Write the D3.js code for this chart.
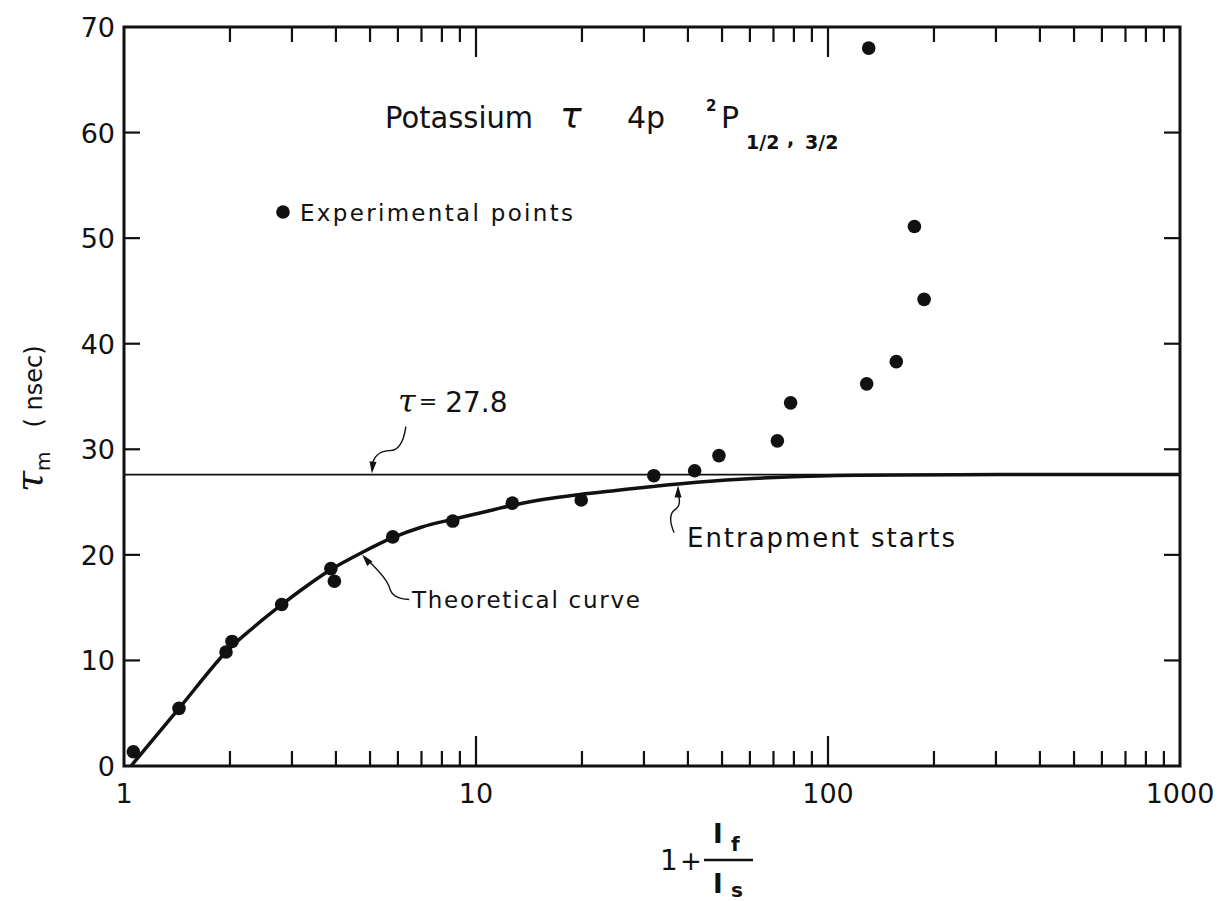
<!DOCTYPE html>
<html>
<head>
<meta charset="utf-8">
<script src="https://cdn.jsdelivr.net/npm/d3@7/dist/d3.min.js"></script>
<style>
  html, body { margin: 0; padding: 0; background: #fff; }
  svg { display: block; }
  text { font-family: "DejaVu Sans", sans-serif; fill: #111; }
</style>
</head>
<body>
<svg id="chart" width="1221" height="901"></svg>
<script>
// ---- data ----
const expX = [1.063, 1.433, 1.949, 2.027, 2.805, 3.87, 3.96, 5.80, 8.59, 12.68, 19.9, 32.0, 41.8, 49.0, 71.8, 78.3, 128.8, 130.5, 156.3, 176, 187.5];
const expY = [1.35, 5.46, 10.8, 11.8, 15.3, 18.7, 17.5, 21.7, 23.2, 24.9, 25.2, 27.5, 27.97, 29.4, 30.8, 34.4, 36.2, 68.0, 38.3, 51.1, 44.2];
const curveX = [1.047, 1.433, 1.949, 2.341, 2.811, 3.289, 3.873, 4.745, 5.773, 7.024, 8.548, 10.40, 12.66, 15.81, 19.75, 24.98, 31.83, 43.28, 61.22, 106.1, 308, 1000];
const curveY = [0, 5.45, 10.80, 13.17, 15.30, 17.00, 18.61, 20.22, 21.60, 22.64, 23.35, 24.01, 24.68, 25.29, 25.72, 26.10, 26.48, 26.90, 27.23, 27.52, 27.6, 27.6];
const tauLine = 27.6;
const xTickLabels = ["1", "10", "100", "1000"];
const xTickValues = [1, 10, 100, 1000];
const yTickValues = [0, 10, 20, 30, 40, 50, 60, 70];

const svg = d3.select("#chart");
const L = 124, R = 1180, T = 27, B = 766;
const x = d3.scaleLog().domain([1, 1000]).range([L, R]);
const y = d3.scaleLinear().domain([0, 70]).range([B, T]);

// minor/major ticks on x (top and bottom, inward)
const xt = x.ticks().filter(v => v > 1 && v < 1000);
const isMajor = v => Math.abs(Math.log10(v) - Math.round(Math.log10(v))) < 1e-9;
const gT = svg.append("g").attr("stroke", "#111").attr("stroke-width", 2.2);
xt.forEach(v => {
  const len = isMajor(v) ? 30 : 15;
  gT.append("line").attr("x1", x(v)).attr("x2", x(v)).attr("y1", B).attr("y2", B - len);
  gT.append("line").attr("x1", x(v)).attr("x2", x(v)).attr("y1", T).attr("y2", T + len);
});
yTickValues.filter(v => v > 0 && v < 70).forEach(v => {
  gT.append("line").attr("x1", L).attr("x2", L + 16).attr("y1", y(v)).attr("y2", y(v));
  gT.append("line").attr("x1", R).attr("x2", R - 16).attr("y1", y(v)).attr("y2", y(v));
});

// frame
svg.append("rect").attr("x", L).attr("y", T).attr("width", R - L).attr("height", B - T)
  .attr("fill", "none").attr("stroke", "#111").attr("stroke-width", 3);

// tick labels
svg.append("g").selectAll("text").data(xTickValues).join("text")
  .attr("x", d => x(d)).attr("y", 803)
  .attr("text-anchor", "middle").attr("font-size", 27)
  .text((d, i) => xTickLabels[i]);
svg.append("g").selectAll("text").data(yTickValues).join("text")
  .attr("x", 115).attr("y", d => y(d) + 10)
  .attr("text-anchor", "end").attr("font-size", 27)
  .text(d => d);

// horizontal tau line
svg.append("line").attr("x1", x(1)).attr("x2", x(1000)).attr("y1", y(tauLine)).attr("y2", y(tauLine))
  .attr("stroke", "#111").attr("stroke-width", 1.6);

// theoretical curve
const line = d3.line().x(d => x(d[0])).y(d => y(d[1])).curve(d3.curveCatmullRom.alpha(0.5));
svg.append("path").datum(curveX.map((v, i) => [v, curveY[i]]))
  .attr("d", line).attr("fill", "none").attr("stroke", "#111").attr("stroke-width", 3.5);

// experimental points
svg.append("g").selectAll("circle").data(expX.map((v, i) => [v, expY[i]])).join("circle")
  .attr("cx", d => x(d[0])).attr("cy", d => y(d[1])).attr("r", 6.8).attr("fill", "#111");

// legend
svg.append("circle").attr("cx", 283).attr("cy", 212).attr("r", 6.8).attr("fill", "#111");
svg.append("text").attr("x", 300).attr("y", 221).attr("font-size", 23)
  .attr("textLength", 273).attr("lengthAdjust", "spacing").text("Experimental points");

// title
const title = svg.append("g");
title.append("text").attr("x", 385).attr("y", 128).attr("font-size", 30)
  .attr("textLength", 148).attr("lengthAdjust", "spacingAndGlyphs").text("Potassium");
title.append("text").attr("x", 560).attr("y", 128).attr("font-size", 36).attr("font-style", "italic")
  .attr("font-family", "DejaVu Serif").text("τ");
title.append("text").attr("x", 627).attr("y", 128).attr("font-size", 30).text("4p");
title.append("text").attr("x", 706).attr("y", 111).attr("font-size", 15).attr("font-weight", "bold").text("2");
title.append("text").attr("x", 721).attr("y", 128).attr("font-size", 30).text("P");
title.append("text").attr("x", 746).attr("y", 149).attr("font-size", 19).attr("font-weight", "bold").text("1/2");
title.append("text").attr("x", 787).attr("y", 145).attr("font-size", 19).attr("font-weight", "bold").text(",");
title.append("text").attr("x", 805).attr("y", 149).attr("font-size", 19).attr("font-weight", "bold").text("3/2");

// tau annotation
const tl = svg.append("text").attr("x", 398).attr("y", 412).attr("font-size", 28);
tl.append("tspan").attr("font-family", "DejaVu Serif").attr("font-style", "italic").attr("font-size", 32).text("τ");
tl.append("tspan").attr("font-size", 22).attr("dx", 3).attr("dy", -3).text("=");
tl.append("tspan").attr("dx", 8).attr("dy", 3).text("27.8");

function arrowHead(tx, ty, ang) { // ang: direction of pointing, radians
  const len = 12, w = 3.5;
  const bx = tx - len * Math.cos(ang), by = ty - len * Math.sin(ang);
  const px = -Math.sin(ang) * w, py = Math.cos(ang) * w;
  svg.append("path").attr("d", `M${tx},${ty}L${bx + px},${by + py}L${bx - px},${by - py}Z`).attr("fill", "#111");
}
const tauTipX = x(5.06), tauTipY = y(tauLine) - 1;
svg.append("path").attr("d", `M${tauTipX + 34},${tauTipY - 47} C${tauTipX + 32},${tauTipY - 33} ${tauTipX + 28},${tauTipY - 23} ${tauTipX + 18},${tauTipY - 23} C${tauTipX + 8},${tauTipY - 23} ${tauTipX + 2},${tauTipY - 17} ${tauTipX},${tauTipY - 8}`)
  .attr("fill", "none").attr("stroke", "#111").attr("stroke-width", 1.4);
arrowHead(tauTipX, tauTipY, Math.PI / 2 + 0.1);

// theoretical curve annotation
svg.append("text").attr("x", 412).attr("y", 608).attr("font-size", 23)
  .attr("textLength", 228).attr("lengthAdjust", "spacing").text("Theoretical curve");
const thX = x(4.75), thY = y(20.22) + 2;
svg.append("path").attr("d", `M${thX + 47},${thY + 45} C${thX + 35},${thY + 44} ${thX + 29},${thY + 41} ${thX + 27},${thY + 32} C${thX + 23},${thY + 22} ${thX + 12},${thY + 12} ${thX + 6},${thY + 6}`)
  .attr("fill", "none").attr("stroke", "#111").attr("stroke-width", 1.4);
arrowHead(thX, thY, Math.atan2(-45, -37));

// entrapment annotation
svg.append("text").attr("x", 687).attr("y", 547).attr("font-size", 26)
  .attr("textLength", 268).attr("lengthAdjust", "spacing").text("Entrapment   starts");
const enX = x(37.5), enY = y(26.75) + 2;
svg.append("path").attr("d", `M${enX - 4},${enY + 47} C${enX - 9},${enY + 35} ${enX - 9},${enY + 28} ${enX - 3},${enY + 24} C${enX + 3},${enY + 20} ${enX + 2},${enY + 14} ${enX},${enY + 8}`)
  .attr("fill", "none").attr("stroke", "#111").attr("stroke-width", 1.4);
arrowHead(enX, enY, -Math.PI / 2);

// axis titles
const yl = svg.append("text").attr("transform", "translate(42,492) rotate(-90)");
yl.append("tspan").attr("font-size", 38).attr("font-style", "italic").attr("font-family", "DejaVu Serif").text("τ");
yl.append("tspan").attr("font-size", 20).attr("dy", 8).text("m");
yl.append("tspan").attr("font-size", 24).attr("dy", -8).attr("dx", 24).text("( nsec)");

const xl = svg.append("g");
xl.append("text").attr("x", 660).attr("y", 870).attr("font-size", 28).text("1");
xl.append("text").attr("x", 680).attr("y", 870).attr("font-size", 26).text("+");
xl.append("line").attr("x1", 704).attr("x2", 753).attr("y1", 860).attr("y2", 860).attr("stroke", "#111").attr("stroke-width", 2.5);
xl.append("text").attr("x", 713).attr("y", 843).attr("font-size", 26).attr("font-family", "DejaVu Serif").attr("font-weight", "bold").text("I");
xl.append("text").attr("x", 731).attr("y", 851).attr("font-size", 20).attr("font-weight", "bold").text("f");
xl.append("text").attr("x", 713).attr("y", 893).attr("font-size", 26).attr("font-family", "DejaVu Serif").attr("font-weight", "bold").text("I");
xl.append("text").attr("x", 731).attr("y", 897).attr("font-size", 20).attr("font-weight", "bold").text("s");
</script>
</body>
</html>
